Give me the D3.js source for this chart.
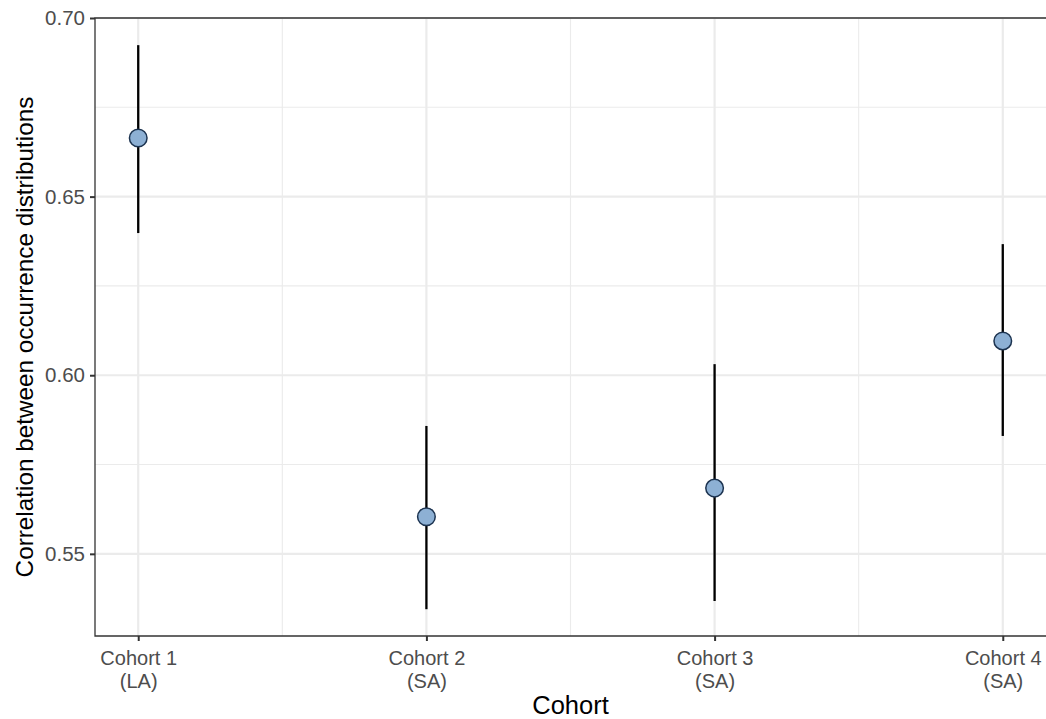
<!DOCTYPE html>
<html>
<head>
<meta charset="utf-8">
<script src="https://cdn.jsdelivr.net/npm/d3@7"></script>
<style>
  html, body { margin: 0; padding: 0; background: #fff; }
  svg { display: block; font-family: "Liberation Sans", Arial, Helvetica, sans-serif; }
</style>
</head>
<body>
<svg id="chart" width="1046" height="719"></svg>
<script>
// cohort point estimates with confidence intervals
var cohorts = ["Cohort 1", "Cohort 2", "Cohort 3", "Cohort 4"];
var groups  = ["(LA)", "(SA)", "(SA)", "(SA)"];
var est     = [0.6664, 0.5604, 0.5684, 0.6096];
var lower   = [0.6398, 0.5345, 0.5368, 0.5830];
var upper   = [0.6924, 0.5858, 0.6031, 0.6367];
var yTicks  = [0.55, 0.60, 0.65, 0.70];
var yMinor  = [0.575, 0.625, 0.675];
var xMinor  = [1.5, 2.5, 3.5];
var yDomain = [0.527, 0.700];

var W = 1046, H = 719;
var m = { left: 95, right: 0, top: 18, bottom: 83 };
var svg = d3.select("#chart");

var y = d3.scaleLinear().domain(yDomain).range([H - m.bottom, m.top]);
var x = d3.scaleLinear().domain([0.85, 4.15]).range([m.left, W - m.right]);
var xs = cohorts.map(function (d, i) { return i + 1; });

var grid = svg.append("g");
grid.selectAll("line.ymin").data(yMinor).join("line")
  .attr("x1", m.left).attr("x2", W - m.right)
  .attr("y1", function (d) { return y(d); }).attr("y2", function (d) { return y(d); })
  .attr("stroke", "#ebebeb").attr("stroke-width", 1.1);
grid.selectAll("line.xmin").data(xMinor).join("line")
  .attr("y1", m.top).attr("y2", H - m.bottom)
  .attr("x1", function (d) { return x(d); }).attr("x2", function (d) { return x(d); })
  .attr("stroke", "#ebebeb").attr("stroke-width", 1.1);
grid.selectAll("line.ymaj").data(yTicks).join("line")
  .attr("x1", m.left).attr("x2", W - m.right)
  .attr("y1", function (d) { return y(d); }).attr("y2", function (d) { return y(d); })
  .attr("stroke", "#ebebeb").attr("stroke-width", 2.2);
grid.selectAll("line.xmaj").data(xs).join("line")
  .attr("y1", m.top).attr("y2", H - m.bottom)
  .attr("x1", function (d) { return x(d); }).attr("x2", function (d) { return x(d); })
  .attr("stroke", "#ebebeb").attr("stroke-width", 2.2);

// axes (left, bottom) plus top border line
var yAxis = svg.append("g").attr("transform", "translate(" + m.left + ",0)")
  .call(d3.axisLeft(y).tickValues(yTicks).tickFormat(d3.format(".2f")).tickSize(5).tickPadding(5));
var xAxis = svg.append("g").attr("transform", "translate(0," + (H - m.bottom) + ")")
  .call(d3.axisBottom(x).tickValues(xs).tickFormat("").tickSize(5));
[yAxis, xAxis].forEach(function (a) {
  a.select(".domain").remove();
  a.selectAll(".tick line").attr("stroke", "#333").attr("stroke-width", 2);
});
yAxis.selectAll(".tick text").attr("fill", "#4d4d4d").attr("font-size", 20.5);

xAxis.selectAll(".tick").each(function (d, i) {
  var t = d3.select(this).append("text").attr("fill", "#4d4d4d").attr("font-size", 20)
    .attr("text-anchor", "middle");
  t.append("tspan").attr("x", 0).attr("y", 29).text(cohorts[i]);
  t.append("tspan").attr("x", 0).attr("y", 51.5).text(groups[i]);
});

svg.append("path")
  .attr("d", "M" + (W - m.right) + "," + m.top + "H" + m.left + "V" + (H - m.bottom) + "H" + (W - m.right))
  .attr("fill", "none").attr("stroke", "#333").attr("stroke-width", 1.3);

// error bars and points
var idx = d3.range(cohorts.length);
svg.append("g").selectAll("line").data(idx).join("line")
  .attr("x1", function (i) { return x(xs[i]); }).attr("x2", function (i) { return x(xs[i]); })
  .attr("y1", function (i) { return y(lower[i]); }).attr("y2", function (i) { return y(upper[i]); })
  .attr("stroke", "#000").attr("stroke-width", 2.3);
svg.append("g").selectAll("circle").data(idx).join("circle")
  .attr("cx", function (i) { return x(xs[i]); }).attr("cy", function (i) { return y(est[i]); })
  .attr("r", 8.8).attr("fill", "#8db0d4").attr("stroke", "#1c3350").attr("stroke-width", 1.5);

// axis titles
svg.append("text").attr("x", (m.left + W - m.right) / 2).attr("y", 714)
  .attr("text-anchor", "middle").attr("font-size", 25.5).attr("fill", "#000").text("Cohort");
svg.append("text")
  .attr("transform", "translate(33," + ((m.top + H - m.bottom) / 2 + 10) + ") rotate(-90)")
  .attr("text-anchor", "middle").attr("font-size", 24.3).attr("fill", "#000")
  .text("Correlation between occurrence distributions");
</script>
</body>
</html>
